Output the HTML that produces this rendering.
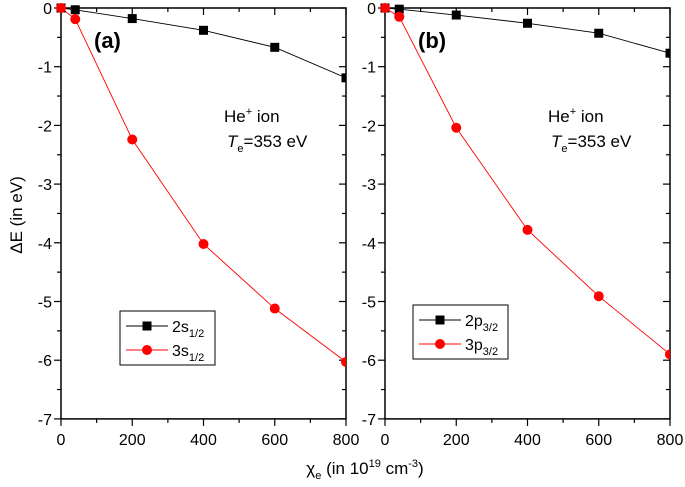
<!DOCTYPE html>
<html><head><meta charset="utf-8"><style>
body{margin:0;background:#fff}
svg{display:block;font-family:"Liberation Sans",Arial,sans-serif}
</style></head><body>
<svg id="c" width="685" height="487" viewBox="0 0 685 487"></svg>
<script>
const xVals=[0,40,200,400,600,800];
const aBlack=[0,-0.03,-0.18,-0.38,-0.67,-1.19];
const aRed=[0,-0.19,-2.24,-4.02,-5.12,-6.03];
const bBlack=[0,-0.02,-0.12,-0.26,-0.43,-0.77];
const bRed=[0,-0.15,-2.04,-3.78,-4.91,-5.90];
const xTicks=[0,200,400,600,800];
const yTicks=[0,-1,-2,-3,-4,-5,-6,-7];
const NS='http://www.w3.org/2000/svg';
const svg=document.getElementById('c');
function el(t,a,p){const e=document.createElementNS(NS,t);for(const k in a)e.setAttribute(k,a[k]);(p||svg).appendChild(e);return e;}
const Y0=8,YU=58.7;
function ys(v){return Y0-v*YU;}
function panel(x0,x1,black,red,tag,lbl,sub,leg){
  const g=el('g',{});
  
  
  const xs=v=>x0+(x1-x0)*v/800;
  const yb=ys(-7);
  for(let v=0;v<=800;v+=100){const X=xs(v),L=v%200==0?7:4;
    el('line',{x1:X,y1:yb,x2:X,y2:yb+L,stroke:'#000','stroke-width':1.2},g);
    el('line',{x1:X,y1:Y0,x2:X,y2:Y0+L,stroke:'#000','stroke-width':1.2},g);}
  for(let v=0;v>=-7;v-=0.5){const Y=ys(v),L=Number.isInteger(v)?7:4;
    el('line',{x1:x0,y1:Y,x2:x0-L,y2:Y,stroke:'#000','stroke-width':1.2},g);
    el('line',{x1:x1,y1:Y,x2:x1-L,y2:Y,stroke:'#000','stroke-width':1.2},g);}
  xTicks.forEach(v=>{const t=el('text',{x:xs(v),y:yb+26,'text-anchor':'middle','font-size':16},g);t.textContent=v;
    });
  yTicks.forEach(v=>{const t=el('text',{x:x0-9,y:ys(v)+6,'text-anchor':'end','font-size':16},g);t.textContent=v;
    });
  el('rect',{x:x0,y:Y0,width:x1-x0,height:yb-Y0,fill:'none',stroke:'#000','stroke-width':1.5},g);
  const cp='cp'+tag;const d=el('clipPath',{id:cp},g);el('rect',{x:x0-6,y:Y0-6,width:x1-x0+6,height:yb-Y0+12},d);
  const sg=el('g',{'clip-path':'url(#'+cp+')'},g);
  const pts=a=>a.map((v,i)=>xs(xVals[i])+','+ys(v)).join(' ');
  const l1=el('polyline',{points:pts(black),fill:'none',stroke:'#000','stroke-width':0.9},sg);
  
  const l2=el('polyline',{points:pts(red),fill:'none',stroke:'#f00','stroke-width':0.9},sg);
  
  black.forEach((v,i)=>{const r=el('rect',{x:xs(xVals[i])-4.5,y:ys(v)-4.5,width:9,height:9,fill:'#000'},sg);
    });
  red.forEach((v,i)=>{const c=el('circle',{cx:xs(xVals[i]),cy:ys(v),r:5,fill:'#f00'},sg);
    });
  const t=el('text',{x:x0+33,y:48,'font-size':22,'font-weight':'bold'},g);t.textContent=lbl;
  
  const h=el('text',{x:x0+163,y:122,'font-size':17},g);h.innerHTML='He<tspan dy="-7" font-size="11">+</tspan><tspan dy="7"> ion</tspan>';
  
  const te=el('text',{x:x0+166,y:147,'font-size':17},g);te.innerHTML='<tspan font-style="italic">T</tspan><tspan dy="5" font-size="11">e</tspan><tspan dy="-5">=353 eV</tspan>';
  
  const lg=el('g',{},g);
  el('rect',{x:leg[0],y:leg[1],width:95,height:54,fill:'#fff',stroke:'#000','stroke-width':1},lg);
  [[ '#000','2'],['#f00','3']].forEach((s,k)=>{const yy=leg[1]+15+k*24;
    el('line',{x1:leg[0]+6,y1:yy,x2:leg[0]+48,y2:yy,stroke:s[0],'stroke-width':0.9},lg);
    if(k==0)el('rect',{x:leg[0]+22.5,y:yy-4.5,width:9,height:9,fill:'#000'},lg);else el('circle',{cx:leg[0]+27,cy:yy,r:5,fill:'#f00'},lg);
    const tx=el('text',{x:leg[0]+52,y:yy+6,'font-size':16},lg);tx.innerHTML=s[1]+sub+'<tspan dy="5" font-size="11">'+(sub=='s'?'1/2':'3/2')+'</tspan>';
    });
}
panel(61,346,aBlack,aRed,'a','(a)','s',[120,311]);
panel(385,670,bBlack,bRed,'b','(b)','p',[413,305]);
const yl=el('text',{x:0,y:0,'font-size':17,'text-anchor':'middle',transform:'translate(22,215) rotate(-90)'});yl.textContent='ΔE (in eV)';

const xl=el('text',{x:365,y:474,'font-size':17,'text-anchor':'middle'});
xl.innerHTML='χ<tspan dy="5" font-size="11">e</tspan><tspan dy="-5"> (in 10</tspan><tspan dy="-7" font-size="11">19</tspan><tspan dy="7"> cm</tspan><tspan dy="-7" font-size="11">-3</tspan><tspan dy="7">)</tspan>';

</script>
</body></html>
